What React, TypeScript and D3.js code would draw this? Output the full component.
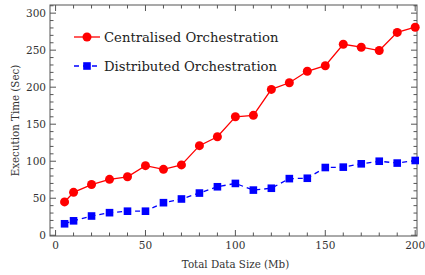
import React from 'react';
import * as d3 from 'd3';

// Data
const dataSizes = [5, 10, 20, 30, 40, 50, 60, 70, 80, 90, 100, 110, 120, 130, 140, 150, 160, 170, 180, 190, 200];
const centralised = [45, 58, 68.5, 75.5, 79, 94, 89, 95, 121, 133, 160, 162, 197, 206, 221.5, 229, 258, 254, 249.5, 274, 281];
const distributed = [15.5, 19.5, 26, 30.5, 32.5, 32.5, 44, 49, 57, 65.5, 70, 61, 63.5, 76.5, 77, 91.5, 92, 96.5, 100, 97.5, 101];
const centralisedErr = [2.5, 2.5, 2, 2, 2, 2, 2, 2, 2.5, 2.5, 2.5, 3, 2.5, 2.5, 2.5, 3, 3, 3.5, 3.5, 3.5, 3.5];
const distributedErr = [2, 2, 2, 2, 2, 2, 2, 2, 2, 2, 2.5, 3, 3, 3, 3.5, 3.5, 3.5, 3.5, 4, 3.5, 4];
const xTicks = [0, 50, 100, 150, 200];
const yTicks = [0, 50, 100, 150, 200, 250, 300];
const seriesNames = ['Centralised Orchestration', 'Distributed Orchestration'];

const W = 425;
const H = 275;
const serif = { fontFamily: '"DejaVu Serif", serif' };
const frameColor = '#555';

export default function App() {
  const left = 50, right = 417, top = 5, bottom = 236;
  const x = d3.scaleLinear().domain([-3.1, 201]).range([left, right]);
  const y = d3.scaleLinear().domain([-1, 311]).range([bottom, top]);

  const xMinor = d3.range(0, 201, 10).filter(v => !xTicks.includes(v));
  const yMinor = d3.range(0, 311, 10).filter(v => !yTicks.includes(v));

  const line = d3.line<number>()
    .x((_, i) => x(dataSizes[i]))
    .y(d => y(d));

  const series = [
    { name: seriesNames[0], values: centralised, err: centralisedErr, color: '#ff0000', dash: undefined, marker: 'circle' },
    { name: seriesNames[1], values: distributed, err: distributedErr, color: '#0000ff', dash: '5,4', marker: 'square' },
  ];

  const marker = (m: string, cx: number, cy: number, color: string, key: string | number) =>
    m === 'circle'
      ? <circle key={key} cx={cx} cy={cy} r={4.5} fill={color} />
      : <rect key={key} x={cx - 3.8} y={cy - 3.8} width={7.6} height={7.6} fill={color} />;

  return (
    <svg width={W} height={H} style={{ position: 'absolute', left: 0, top: 0, background: '#fff' }}>
      {/* frame */}
      <rect x={left} y={top} width={right - left} height={bottom - top} fill="none" stroke={frameColor} strokeWidth={1} />

      {/* x ticks, bottom and top */}
      {xTicks.map(t => (
        <g key={'xt' + t}>
          <line x1={x(t)} x2={x(t)} y1={bottom} y2={bottom - 6} stroke={frameColor} />
          <line x1={x(t)} x2={x(t)} y1={top} y2={top + 6} stroke={frameColor} />
          <text x={x(t)} y={bottom + 13} textAnchor="middle" style={serif} fontSize={10.5} fill="#333">{t}</text>
        </g>
      ))}
      {xMinor.map(t => (
        <g key={'xm' + t}>
          <line x1={x(t)} x2={x(t)} y1={bottom} y2={bottom - 3.5} stroke={frameColor} />
          <line x1={x(t)} x2={x(t)} y1={top} y2={top + 3.5} stroke={frameColor} />
        </g>
      ))}

      {/* y ticks, left and right */}
      {yTicks.map(t => (
        <g key={'yt' + t}>
          <line x1={left} x2={left + 6} y1={y(t)} y2={y(t)} stroke={frameColor} />
          <line x1={right} x2={right - 6} y1={y(t)} y2={y(t)} stroke={frameColor} />
          <text x={left - 4} y={y(t) + 4} textAnchor="end" style={serif} fontSize={10.5} fill="#333">{t}</text>
        </g>
      ))}
      {yMinor.map(t => (
        <g key={'ym' + t}>
          <line x1={left} x2={left + 3.5} y1={y(t)} y2={y(t)} stroke={frameColor} />
          <line x1={right} x2={right - 3.5} y1={y(t)} y2={y(t)} stroke={frameColor} />
        </g>
      ))}

      {/* series */}
      {series.map(s => (
        <g key={s.name}>
          <path d={line(s.values) || ''} fill="none" stroke={s.color} strokeWidth={1.3} strokeDasharray={s.dash} />
          {s.values.map((v, i) => (
            <line key={'e' + i} x1={x(dataSizes[i])} x2={x(dataSizes[i])} y1={y(v - s.err[i])} y2={y(v + s.err[i])}
              stroke={s.color} strokeWidth={1.5} />
          ))}
          {s.values.map((v, i) => marker(s.marker, x(dataSizes[i]), y(v), s.color, i))}
        </g>
      ))}

      {/* legend */}
      {series.map((s, i) => {
        const ly = 37 + i * 29;
        return (
          <g key={'lg' + i}>
            <line x1={74} x2={100} y1={ly} y2={ly} stroke={s.color} strokeWidth={1.3} strokeDasharray={s.dash} />
            {marker(s.marker, 87, ly, s.color, 'm')}
            <text x={104} y={ly + 4.5} style={serif} fontSize={13.2} fill="#222">{s.name}</text>
          </g>
        );
      })}

      {/* axis titles */}
      <text x={(left + right) / 2 + 2} y={268} textAnchor="middle" style={serif} fontSize={10.3} fill="#333">Total Data Size (Mb)</text>
      <text transform={`translate(19, ${(top + bottom) / 2}) rotate(-90)`} textAnchor="middle" style={serif} fontSize={10.3} fill="#333">Execution Time (Sec)</text>
    </svg>
  );
}
